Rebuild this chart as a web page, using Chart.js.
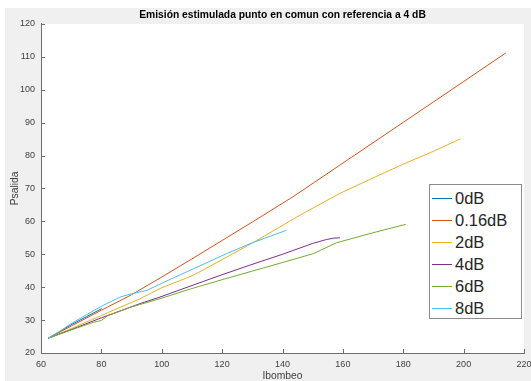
<!DOCTYPE html>
<html><head><meta charset="utf-8">
<script src="https://cdn.jsdelivr.net/npm/chart.js@4.4.0/dist/chart.umd.min.js"></script>
<style>
html,body{margin:0;padding:0;background:#ffffff;}
#wrap{position:relative;width:531px;height:381px;}
canvas{display:block;}
#legend{position:absolute;left:429px;top:184px;width:91px;height:133px;background:#fff;border:1px solid #8c8c8c;font-family:"Liberation Sans",Arial,sans-serif;font-size:16.5px;color:#262626;}
.row{position:absolute;left:0;width:90px;height:22px;line-height:22px;white-space:nowrap;}
.sw{position:absolute;left:2px;top:11px;width:20px;height:1px;}
.lb{position:absolute;left:25px;top:0;}
</style></head><body>
<div id="wrap"><canvas id="c" width="531" height="381"></canvas><div id="legend"></div></div>
<script>
const titleText = 'Emisión estimulada punto en comun con referencia a 4 dB';
const xLabel = 'Ibombeo';
const yLabel = 'Psalida';
const seriesNames = ['0dB', '0.16dB', '2dB', '4dB', '6dB', '8dB'];
const seriesColors = ['#0072BD', '#D95319', '#EDB120', '#7E2F8E', '#77AC30', '#4DBEEE'];

const x0dB = [62.4, 66, 70, 75, 80.1];
const y0dB = [24.5, 26.4, 28.6, 31.0, 33.5];
const x016dB = [62.4, 70, 80, 90, 100, 110, 120, 130, 143.5, 159, 170, 180, 190, 200, 214];
const y016dB = [24.5, 28.2, 33.0, 37.7, 43.1, 48.6, 54.2, 59.8, 67.5, 77.1, 83.9, 90.1, 96.3, 102.5, 111.2];
const x2dB = [62.4, 70, 80, 92.8, 99.4, 110.4, 120, 130, 145.8, 159, 170, 180, 190, 199];
const y2dB = [24.5, 27.4, 31.4, 36.5, 39.6, 43.6, 48.4, 53.4, 61.9, 68.5, 73.2, 77.4, 81.3, 85.1];
const x4dB = [62.4, 70, 80, 92.8, 99.4, 110, 120, 129.2, 140, 150, 154.6, 157, 159];
const y4dB = [24.5, 27.1, 30.7, 35.0, 37.0, 40.5, 43.8, 46.7, 50.0, 53.3, 54.5, 54.9, 55.0];
const x6dB = [62.4, 70, 77.3, 80, 82, 90, 99.4, 110, 119.3, 130, 140, 150.2, 157.9, 169, 180.8];
const y6dB = [24.5, 27.0, 29.3, 29.9, 31.3, 34.0, 36.5, 39.6, 42.1, 44.9, 47.5, 50.2, 53.5, 56.3, 59.1];
const x8dB = [62.4, 66, 70, 75, 80, 86.2, 90, 95, 100, 110, 121.5, 130, 141.3];
const y8dB = [24.5, 26.5, 28.9, 31.6, 34.2, 37.0, 38.0, 39.0, 41.2, 45.4, 50.2, 53.5, 57.3];

const xTicksMin = 60, xTicksMax = 220, xStep = 20;
const yTicksMin = 20, yTicksMax = 120, yStep = 10;

const xs = [x0dB, x016dB, x2dB, x4dB, x6dB, x8dB];
const ys = [y0dB, y016dB, y2dB, y4dB, y6dB, y8dB];

const datasets = seriesNames.map((n, i) => ({
  label: n,
  data: xs[i].map((x, j) => ({x: x, y: ys[i][j]})),
  borderColor: seriesColors[i],
  backgroundColor: seriesColors[i],
  borderWidth: 1,
  pointRadius: 0,
  tension: 0,
  fill: false,
  order: seriesNames.length - i
}));

const FONT = '"Liberation Sans", Arial, Helvetica, sans-serif';
const AX = '#404040';

const plotBg = {
  id: 'plotBg',
  beforeDraw(chart) {
    const {ctx, chartArea: a, width, height} = chart;
    ctx.save();
    ctx.fillStyle = '#ffffff';
    ctx.fillRect(0, 0, width, height);
    ctx.fillStyle = '#f0f0f0';
    ctx.fillRect(5, 8, width - 5, height - 8);
    ctx.fillStyle = '#ffffff';
    ctx.fillRect(a.left, a.top, a.right - a.left, a.bottom - a.top);
    ctx.restore();
  }
};
const inTicks = {
  id: 'inTicks',
  afterDraw(chart) {
    const {ctx, chartArea: a, scales} = chart;
    ctx.save();
    ctx.strokeStyle = '#6e6e6e';
    ctx.lineWidth = 1;
    ctx.beginPath();
    scales.x.ticks.forEach(t => {
      const p = Math.round(scales.x.getPixelForValue(t.value)) + 0.5;
      ctx.moveTo(p, a.bottom); ctx.lineTo(p, a.bottom - 4);
    });
    scales.y.ticks.forEach(t => {
      const p = Math.round(scales.y.getPixelForValue(t.value)) + 0.5;
      ctx.moveTo(a.left, p); ctx.lineTo(a.left + 4, p);
    });
    ctx.stroke();
    ctx.restore();
  }
};

new Chart(document.getElementById('c'), {
  type: 'line',
  data: {datasets},
  plugins: [plotBg, inTicks],
  options: {
    responsive: false,
    animation: false,
    devicePixelRatio: 1,
    layout: {padding: {left: 0, right: 7, top: 0, bottom: 0}},
    plugins: {
      legend: {display: false},
      tooltip: {enabled: false},
      title: {
        display: true, text: titleText, fullSize: false, color: '#000',
        font: {family: FONT, size: 10.3, weight: 'bold', lineHeight: 1.2},
        padding: {top: 9, bottom: 2.6}
      }
    },
    scales: {
      x: {
        type: 'linear', min: xTicksMin, max: xTicksMax,
        grid: {display: false, drawTicks: false},
        border: {display: true, color: '#6e6e6e', width: 1},
        ticks: {stepSize: xStep, color: AX, font: {family: FONT, size: 9}, padding: 6, maxRotation: 0, autoSkip: false},
        title: {display: true, text: xLabel, color: AX, font: {family: FONT, size: 10.3, lineHeight: 1}, padding: {top: 0, bottom: 0}},
        afterFit(s) { s.height = 28; s.paddingLeft = 0; s.paddingRight = 0; }
      },
      y: {
        type: 'linear', min: yTicksMin, max: yTicksMax,
        grid: {display: false, drawTicks: false},
        border: {display: true, color: '#6e6e6e', width: 1},
        ticks: {stepSize: yStep, color: AX, font: {family: FONT, size: 9}, padding: 6, autoSkip: false},
        title: {display: true, text: yLabel, color: AX, font: {family: FONT, size: 10.3, lineHeight: 1}, padding: {top: 10, bottom: 0}},
        afterFit(s) { s.width = 41; s.paddingTop = 0; s.paddingBottom = 0; }
      }
    }
  }
});

const leg = document.getElementById('legend');
seriesNames.forEach((n, i) => {
  const r = document.createElement('div');
  r.className = 'row';
  r.style.top = (2 + i * 21.9) + 'px';
  r.innerHTML = '<div class="sw" style="background:' + seriesColors[i] + '"></div><div class="lb">' + n + '</div>';
  leg.appendChild(r);
});
</script>
</body></html>
